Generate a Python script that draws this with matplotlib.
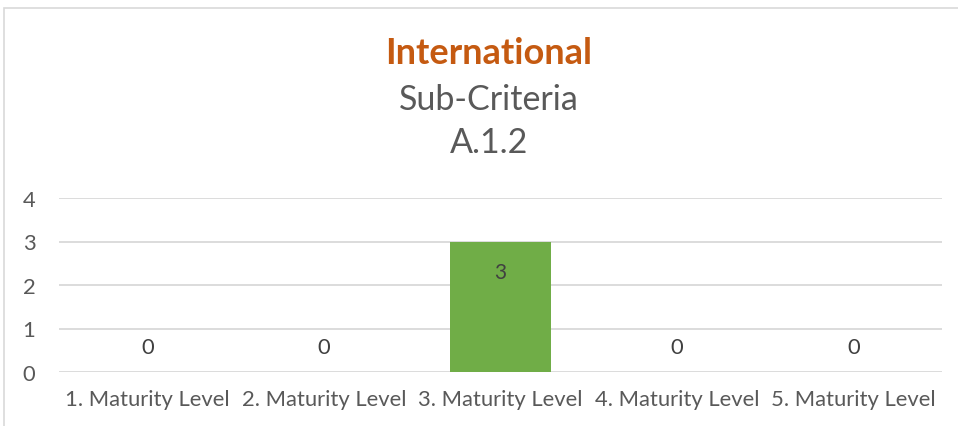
import matplotlib.pyplot as plt
from matplotlib.patches import Rectangle

categories = ['1. Maturity Level', '2. Maturity Level', '3. Maturity Level',
              '4. Maturity Level', '5. Maturity Level']
values = [0, 0, 3, 0, 0]
y_ticks = [0, 1, 2, 3, 4]

text_gray = '#595959'
grid_gray = '#D9D9D9'
bar_green = '#70AD47'
title_orange = '#C55A11'

plt.rcParams['font.family'] = ['Lato', 'DejaVu Sans']

fig = plt.figure(figsize=(9.58, 4.27), dpi=100)

# chart frame (cropped on the right and bottom)
fig.patches.append(Rectangle((4 / 958, -0.1), 1.2, 1 - 9 / 427 + 0.1,
                             transform=fig.transFigure, fill=False,
                             edgecolor=grid_gray, linewidth=1.2))

ax = fig.add_axes([59 / 958, 54 / 427, 883 / 958, 174 / 427])
x = range(len(categories))
bars = ax.bar(x, values, width=0.57, color=bar_green, zorder=2)

ax.set_xlim(-0.5, len(categories) - 0.5)
ax.set_ylim(0, 4)
ax.set_yticks(y_ticks)
ax.set_xticks(list(x))
ax.set_xticklabels(categories)
ax.grid(axis='y', color=grid_gray, linewidth=1.3, zorder=0)
ax.set_axisbelow(True)
for s in ax.spines.values():
    s.set_visible(False)
ax.tick_params(axis='both', length=0, labelsize=15.8, colors=text_gray)
ax.tick_params(axis='x', pad=12)
ax.tick_params(axis='y', pad=17)

for i, v in enumerate(values):
    if v > 0:
        ax.annotate(str(v), (i, v), xytext=(0, -22), textcoords='offset points',
                    ha='center', va='center', fontsize=15, color='#404040')
    else:
        ax.annotate(str(v), (i, v), xytext=(0, 18), textcoords='offset points',
                    ha='center', va='center', fontsize=15.8, color='#404040')

fig.text(489 / 958, 1 - 53 / 427, 'International', ha='center', va='center',
         fontsize=26, fontweight='bold', color=title_orange)
fig.text(489 / 958, 1 - 100 / 427, 'Sub-Criteria', ha='center', va='center',
         fontsize=24.5, color=text_gray)
fig.text(489 / 958, 1 - 143 / 427, 'A.1.2', ha='center', va='center',
         fontsize=24.5, color=text_gray)

plt.savefig('out.png', dpi=100)
